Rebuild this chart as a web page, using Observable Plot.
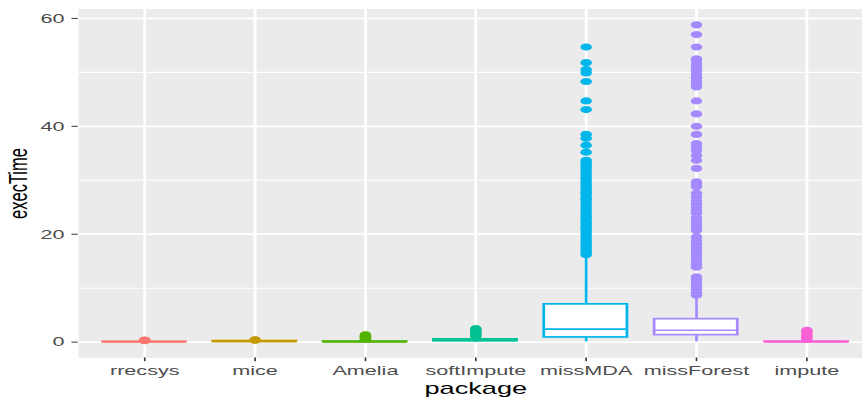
<!DOCTYPE html>
<html><head><meta charset="utf-8">
<script src="https://cdn.jsdelivr.net/npm/d3@7"></script>
<script src="https://cdn.jsdelivr.net/npm/@observablehq/plot@0.6"></script>
<style>
html,body{margin:0;padding:0;background:#fff;overflow:hidden;}
#wrap{width:862px;height:398px;overflow:hidden;position:relative;}
#wrap svg{transform:scaleX(1.5993);transform-origin:0 0;overflow:visible;}
</style></head><body><div id="wrap"></div>
<script>
const packages = ["rrecsys","mice","Amelia","softImpute","missMDA","missForest","impute"];
const colors = ["#F8766D","#C49A00","#53B400","#00C094","#00B6EB","#A58AFF","#FB61D7"];
const q1 = [0.02, 0.05, 0.02, 0.18, 0.87, 1.30, 0.02];
const median = [0.05, 0.12, 0.06, 0.32, 2.40, 2.20, 0.05];
const q3 = [0.08, 0.20, 0.12, 0.52, 7.00, 4.26, 0.10];
const whiskerLow = [0.00, 0.00, 0.00, 0.00, 0.05, 0.05, 0.00];
const whiskerHigh = [0.15, 0.35, 0.30, 1.00, 15.8, 8.5, 0.30];

const out_rrecsys = [0.28, 0.35, 0.40];
const out_mice = [0.38, 0.42];
const out_Amelia = [0.5, 0.7, 0.9, 1.05, 1.15, 1.25, 1.35];
const out_softImpute = [1.1, 1.3, 1.5, 1.7, 1.9, 2.1, 2.3, 2.5];
const out_missMDA = [16.2, 16.6, 17.0, 17.5, 17.9, 18.4, 18.8, 19.3, 19.7, 20.2, 20.6, 21.1, 21.5, 22.0, 22.4, 22.9, 23.3, 23.8, 24.2, 24.7, 25.1, 25.6, 26.0, 26.5, 26.9, 27.4, 27.8, 28.3, 28.7, 29.2, 29.6, 30.1, 30.5, 31.0, 31.4, 31.9, 32.3, 32.8, 33.2, 33.7, 35.2, 36.5, 37.8, 38.5, 43.1, 44.7, 48.3, 49.9, 50.5, 51.8, 54.7];
const out_missForest = [8.7, 9.2, 9.8, 10.4, 11.0, 11.6, 12.1, 13.9, 14.4, 15.0, 15.6, 16.1, 16.5, 17.0, 17.6, 18.2, 18.8, 19.5, 20.7, 21.3, 21.9, 22.5, 23.1, 23.9, 24.4, 25.0, 25.6, 26.2, 26.9, 27.6, 28.8, 29.3, 29.7, 32.2, 33.7, 34.6, 35.5, 36.2, 36.8, 38.5, 40.0, 42.3, 44.7, 47.3, 47.9, 48.5, 49.1, 49.7, 50.3, 50.9, 51.5, 52.1, 52.5, 54.7, 57.0, 58.8];
const out_impute = [0.5, 0.8, 1.1, 1.4, 1.7, 2.0, 2.2];

const yTicks = [0, 20, 40, 60];
const yMinor = [10, 30, 50];
const xLabel = "package";
const yLabel = "execTime";

const boxes = packages.map((p, i) => ({package: p, q1: q1[i], median: median[i], q3: q3[i], lo: whiskerLow[i], hi: whiskerHigh[i]}));
const outlierLists = [out_rrecsys, out_mice, out_Amelia, out_softImpute, out_missMDA, out_missForest, out_impute];
const outliers = packages.flatMap((p, i) => outlierLists[i].map(v => ({package: p, value: v})));

const S = 862 / 539;
const W = 539;
const left = 77.7 / S;
const step = 110.45 / S;
const right = left + 7.2 * step;
const lw = 1.7;

const plot = Plot.plot({
  width: W, height: 398,
  marginLeft: left, marginRight: 0, marginTop: 8.5, marginBottom: 40.5,
  style: {fontFamily: "'Liberation Sans', Arial, Helvetica, sans-serif", background: "white", overflow: "visible"},
  x: {domain: packages, range: [left, right], paddingInner: 0.25, paddingOuter: 0.225, align: 0.5, axis: null},
  y: {domain: [-2.94, 61.74], axis: null},
  color: {domain: packages, range: colors},
  marks: [
    Plot.frame({fill: "#EBEBEB", stroke: "none"}),
    Plot.gridY(yMinor, {stroke: "white", strokeOpacity: 1, strokeWidth: 1.1}),
    Plot.gridY(yTicks, {stroke: "white", strokeOpacity: 1, strokeWidth: 1.8}),
    Plot.gridX(packages, {stroke: "white", strokeOpacity: 1, strokeWidth: 1.8}),
    Plot.ruleX(boxes, {x: "package", y1: "q3", y2: "hi", stroke: "package", strokeWidth: lw}),
    Plot.ruleX(boxes, {x: "package", y1: "lo", y2: "q1", stroke: "package", strokeWidth: lw}),
    Plot.barY(boxes, {x: "package", y1: "q1", y2: "q3", fill: "white", stroke: "package", strokeWidth: lw}),
    Plot.tickY(boxes, {x: "package", y: "median", stroke: "package", strokeWidth: lw}),
    Plot.dot(outliers, {x: "package", y: "value", fill: "package", r: 3.6}),
    Plot.axisY(yTicks, {tickSize: 3.9, tickPadding: 4.8, fontSize: 13.5, fill: "#4D4D4D", stroke: "#333333", label: null}),
    Plot.axisX(packages, {tickSize: 3.7, tickPadding: 3.8, fontSize: 13.5, fill: "#4D4D4D", stroke: "#333333", label: null}),
    Plot.text([yLabel], {frameAnchor: "left", text: d => d, rotate: -90, dx: 10.9 - left, fontSize: 16.5, fill: "black", textAnchor: "middle", lineAnchor: "middle"}),
    Plot.text([xLabel], {frameAnchor: "bottom", text: d => d, dx: 475 / S - (left + W) / 2, dy: 35.5, fontSize: 17, fill: "black", lineAnchor: "bottom"})
  ]
});
document.getElementById("wrap").appendChild(plot);
</script></body></html>
